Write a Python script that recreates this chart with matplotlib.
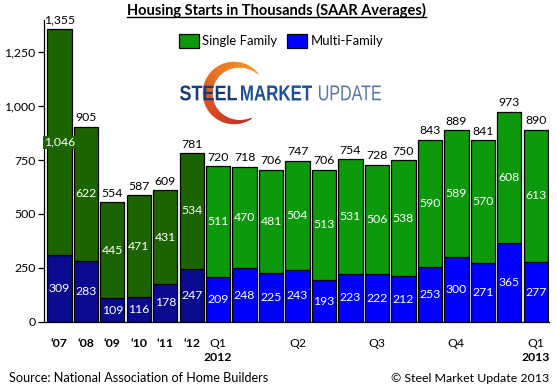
import numpy as np
import matplotlib
matplotlib.use("Agg")
import matplotlib.pyplot as plt
from matplotlib.collections import PolyCollection
from matplotlib.lines import Line2D
from matplotlib.patches import Patch, PathPatch
from matplotlib.textpath import TextPath
from matplotlib.font_manager import FontProperties
from matplotlib.transforms import Affine2D

plt.rcParams['font.family'] = ['Lato', 'DejaVu Sans']

periods = ["\u201807", "\u201808", "\u201809", "\u201810", "\u201811", "\u201812",
           "Jan12", "Feb12", "Mar12", "Apr12", "May12", "Jun12",
           "Jul12", "Aug12", "Sep12", "Oct12", "Nov12", "Dec12", "Jan13"]
single = [1046, 622, 445, 471, 431, 534, 511, 470, 481, 504, 513, 531, 506, 538, 590, 589, 570, 608, 613]
multi = [309, 283, 109, 116, 178, 247, 209, 248, 225, 243, 193, 223, 222, 212, 253, 300, 271, 365, 277]
n_annual = 6
quarter_labels = {6: ("Q1", "2012"), 9: ("Q2", ""), 12: ("Q3", ""), 15: ("Q4", ""), 18: ("Q1", "2013")}

single = np.array(single)
multi = np.array(multi)
total = single + multi
x = np.arange(len(periods))

c_sf_year, c_mf_year = '#1c6400', '#0b0b8f'
c_sf_mon, c_mf_mon = '#0c990c', '#0000ff'
sf_cols = [c_sf_year if i < n_annual else c_sf_mon for i in x]
mf_cols = [c_mf_year if i < n_annual else c_mf_mon for i in x]

W, H = 557, 387
fig = plt.figure(figsize=(W / 100, H / 100), dpi=100)
ax = fig.add_axes([44 / W, 1 - 322 / H, (549 - 44) / W, (322 - 19.6) / H])

ax.bar(x, multi, width=0.92, color=mf_cols, edgecolor='black', linewidth=0.9)
ax.bar(x, single, bottom=multi, width=0.92, color=sf_cols, edgecolor='black', linewidth=0.9)

fs = 8.8
for i in x:
    ax.annotate(f"{total[i]:,}", (i, total[i]), xytext=(0, 2.5), textcoords='offset points',
                ha='center', va='bottom', fontsize=fs, color='black')
    bb = dict(boxstyle='square,pad=0.1', fc=sf_cols[i], ec='none') if single[i] >= 1000 else None
    ax.text(i, multi[i] + single[i] / 2, f"{single[i]:,}", ha='center', va='center',
            fontsize=fs, color='white', bbox=bb)
    ax.text(i, multi[i] / 2, f"{multi[i]:,}", ha='center', va='center',
            fontsize=fs, color='white')

ax.set_xlim(-0.58, 18.5)
ax.set_ylim(0, 1400)
ax.set_yticks([0, 250, 500, 750, 1000, 1250])
ax.set_yticklabels([f"{v:,}" for v in [0, 250, 500, 750, 1000, 1250]], fontsize=fs)
ax.tick_params(axis='y', length=4, width=0.9, pad=2)
for s in ['top', 'right']:
    ax.spines[s].set_visible(False)
ax.spines['left'].set_linewidth(0.9)
ax.spines['bottom'].set_linewidth(0.9)
ax.set_xticks([])

for i in range(n_annual):
    ax.annotate(periods[i], (i, 0), xycoords=('data', 'axes fraction'), xytext=(0, -15.5),
                textcoords='offset points', ha='center', va='center', fontsize=fs, fontweight='bold')
for i, (q, yr) in quarter_labels.items():
    ax.annotate(q, (i, 0), xycoords=('data', 'axes fraction'), xytext=(0, -15.5),
                textcoords='offset points', ha='center', va='center', fontsize=fs)
    if yr:
        ax.annotate(yr, (i, 0), xycoords=('data', 'axes fraction'), xytext=(0, -25.5),
                    textcoords='offset points', ha='center', va='center', fontsize=fs, fontweight='bold')

handles = [Patch(fc=c_sf_mon, ec='black', lw=0.9), Patch(fc=c_mf_mon, ec='black', lw=0.9)]
fig.legend(handles, ["Single Family", "Multi-Family"], ncol=2, frameon=False,
           loc='center', bbox_to_anchor=(281 / W, 1 - 41 / H), fontsize=9.4,
           handlelength=1.55, handleheight=1.2, handletextpad=0.25, columnspacing=0.75,
           borderpad=0, borderaxespad=0)

# overlay in pixel coordinates for title, logo and footer
ov = fig.add_axes([0, 0, 1, 1], facecolor='none')
ov.set_xlim(0, W)
ov.set_ylim(H, 0)
ov.axis('off')

# logo crescent
cx, cy, R = 234, 93, 31
th = np.linspace(np.radians(38), np.radians(305), 80)
thick = 9 * np.sin((th - th[0]) / (th[-1] - th[0]) * np.pi) ** 0.9 + 0.4
c0 = np.array([0.97, 0.60, 0.12])
c1 = np.array([0.78, 0.12, 0.10])
polys, cols = [], []
for k in range(len(th) - 1):
    a, b = th[k], th[k + 1]
    ra, rb = R - thick[k], R - thick[k + 1]
    polys.append([(cx + R * np.cos(a), cy - R * np.sin(a)), (cx + R * np.cos(b), cy - R * np.sin(b)),
                  (cx + rb * np.cos(b), cy - rb * np.sin(b)), (cx + ra * np.cos(a), cy - ra * np.sin(a))])
    t = k / (len(th) - 2)
    cols.append(c0 * (1 - t) + c1 * t)
ov.add_collection(PolyCollection(polys, facecolors=cols, edgecolors=cols, linewidths=0.3))

# logo words, squeezed to the reference width and cap height
for word, x0, wd, col, wt in [("STEEL", 180, 57, '#1b3a78', 'bold'),
                               ("MARKET", 241, 71, '#1f4f9c', 'bold'),
                               ("UPDATE", 319, 62, '#5577b0', 'normal')]:
    tp = TextPath((0, 0), word, size=10, prop=FontProperties(family='Liberation Sans', weight=wt))
    e = tp.get_extents()
    sx, sy = wd / e.width, 15 / e.height
    tr = Affine2D().translate(-e.x0, -e.y0).scale(sx, -sy).translate(x0, 93 + 7.5) + ov.transData
    ov.add_patch(PathPatch(tp, transform=tr, fc=col, ec='none'))

fig.canvas.draw()
r = fig.canvas.get_renderer()


def fit_text(xp, yp, s, width, ha='left', **kw):
    t = ov.text(xp, yp, s, ha=ha, va='center', **kw)
    w = t.get_window_extent(r).width
    t.set_fontsize(t.get_fontsize() * width / w)
    return t


title = fit_text(276.5, 10, "Housing Starts in Thousands (SAAR Averages)", 299, ha='center',
                 fontsize=10, fontweight='bold')
fit_text(9, 378, "Source: National Association of Home Builders", 259, fontsize=9)
fit_text(549, 378, "\u00a9 Steel Market Update 2013", 159, ha='right', fontsize=9)

fig.canvas.draw()
bb = title.get_window_extent(r)
fig.add_artist(Line2D([bb.x0 / W, bb.x1 / W], [(bb.y0 + 0.5) / H] * 2, color='black', lw=1))

fig.savefig("out.png", dpi=100)
